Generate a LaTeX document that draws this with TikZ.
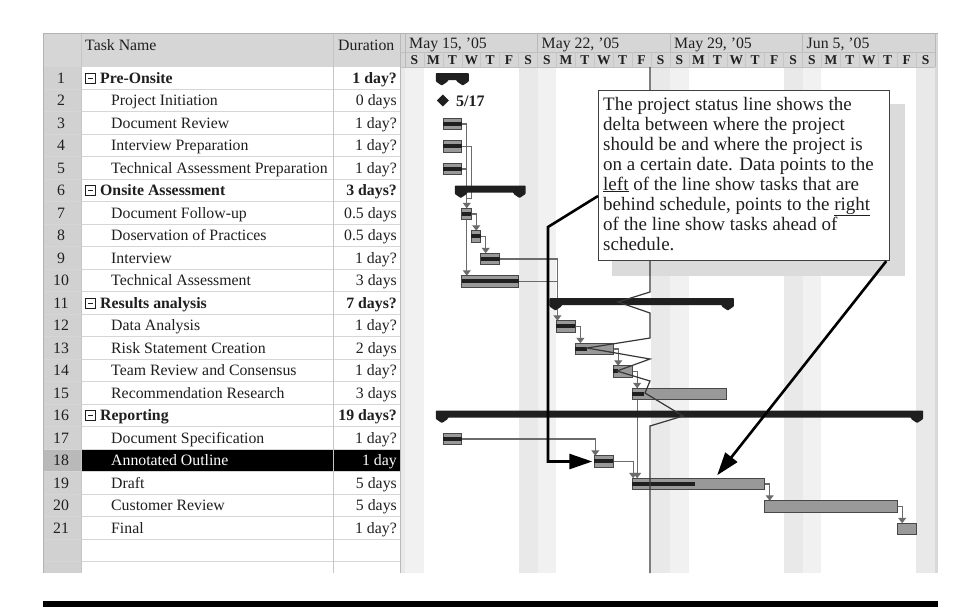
\documentclass[tikz,border=0pt]{standalone}
\usepackage{fontspec}
\setmainfont{Liberation Serif}
\usetikzlibrary{arrows.meta,shapes.geometric}
\pgfdeclarelayer{back}
\pgfdeclarelayer{deps}
\pgfsetlayers{back,deps,main}
\definecolor{wkA}{gray}{0.915}
\definecolor{wkB}{gray}{0.945}
\definecolor{hdr}{gray}{0.84}
\definecolor{numcol}{gray}{0.82}
\definecolor{barfill}{gray}{0.60}
\definecolor{ink}{gray}{0.12}

\newcommand\taskbar[4]{%
  \pgfmathsetmacro\tbXs{405+18.93*#3}%
  \pgfmathsetmacro\tbW{18.93*(#4-#3)}%
  \pgfmathsetmacro\tbY{56.5+22.5*#2}%
  \node[bar, minimum width=\tbW pt] (#1) at (\tbXs,\tbY) {};%
}
\newcommand\progbar[3]{%
  \pgfmathsetmacro\pbXs{405+18.93*#2}%
  \pgfmathsetmacro\pbXe{405+18.93*#3}%
  \pgfmathsetmacro\pbY{56.5+22.5*#1}%
  \fill[progfill] (\pbXs,\pbY-2.2) rectangle (\pbXe,\pbY+1.8);%
}
\newcommand\summbar[3]{%
  \pgfmathsetmacro\sbXs{405+18.93*#2}%
  \pgfmathsetmacro\sbXe{405+18.93*#3}%
  \pgfmathsetmacro\sbY{55.5+22.5*#1}%
  \fill[sumfill, rounded corners=0.8pt] (\sbXs-7,\sbY-5) -- (\sbXe+7,\sbY-5) -- (\sbXe+7,\sbY+3.5) -- (\sbXe+1,\sbY+7.5) -- (\sbXe-5,\sbY+3.5) -- (\sbXe-5,\sbY+2) -- (\sbXs+5,\sbY+2) -- (\sbXs+5,\sbY+3.5) -- (\sbXs-1,\sbY+7.5) -- (\sbXs-7,\sbY+3.5) -- cycle;%
}

\begin{document}
\begin{tikzpicture}[x=1pt,y=-1pt,
  tbl/.style={font=\fontsize{15.8}{18}\selectfont, inner sep=0pt, text=ink},
  tblb/.style={font=\fontsize{15.8}{18}\selectfont\bfseries, inner sep=0pt, text=ink},
  dayl/.style={font=\fontsize{13.5}{15}\selectfont\bfseries, anchor=base, inner sep=0pt, text=ink},
  ctext/.style={font=\fontsize{19}{20}\selectfont, anchor=base west, inner sep=0pt, text=ink},
  bar/.style={draw=black!72, fill=barfill, line width=0.7pt, minimum height=11.5pt, inner sep=0pt, outer sep=0pt, anchor=west},
  progfill/.style={fill=black!88},
  sumfill/.style={fill=black!88},
  dep/.style={draw=black!58, line width=1.1pt, -{Triangle[width=8pt,length=5.5pt]}},
  depline/.style={draw=black!58, line width=1.1pt},
  status/.style={draw=black!78, line width=1.2pt},
  bigarrow/.style={draw=black, line width=2.6pt, -{Triangle[length=23pt,width=15pt]}},
  rowline/.style={draw=gray!32, line width=0.6pt},
  colline/.style={draw=gray!45, line width=0.7pt}
]
\useasboundingbox (0,0) rectangle (977,611);

\begin{pgfonlayer}{back}
  \fill[white] (0,0) rectangle (977,611);
  % weekend stripes
  \begin{scope}
    \clip (400,67) rectangle (935,573);
    \foreach \dd/\cc in {-1/wkA,0/wkB,6/wkA,7/wkB,13/wkA,14/wkB,20/wkA,21/wkB,27/wkA}
      \fill[\cc] ({405+18.93*\dd},67) rectangle ({405+18.93*(\dd+1)},573);
  \end{scope}
  \fill[gray!30] (935,33) rectangle (938,573);
  % header band
  \fill[hdr] (43,33) rectangle (935,67);
  % row number column
  \fill[numcol] (43,66.75) rectangle (81,573);
  % selected row 18
  \fill[black] (81,449.25) rectangle (400,471.75);
  \fill[gray!55] (43,449.25) rectangle (81,471.75);
  % row lines
  \foreach \ii in {0,...,22}
    \draw[rowline] (43,{66.75+22.5*\ii}) -- (400,{66.75+22.5*\ii});
  % column lines
  \draw[colline] (81,33) -- (81,573);
  \draw[colline] (333,33) -- (333,573);
  \draw[draw=gray!55, line width=0.9pt] (400,33) -- (400,573);
  \draw[draw=gray!60, line width=1pt] (43,33) -- (43,573);
  \draw[draw=gray!60, line width=1pt] (43,33) -- (938,33);
  \draw[draw=gray!50, line width=0.7pt] (400,52) -- (935,52);
  \draw[draw=gray!50, line width=0.7pt] (400,67) -- (935,67);
  \foreach \kk in {0,...,4}
    \draw[draw=gray!55, line width=0.7pt] ({405+132.5*\kk},33) -- ({405+132.5*\kk},67);
  \foreach \dd in {1,...,27}
    \draw[draw=gray!45, line width=0.5pt] ({405+18.93*\dd},52) -- ({405+18.93*\dd},67);
\end{pgfonlayer}

% header texts
\node[tbl, anchor=base west] (hname) at (85,50) {Task Name};
\node[tbl, anchor=base west] (hdur) at (338,50) {Duration};
\foreach \kk/\wl in {0/May 15,1/May 22,2/May 29,3/Jun 5}
  \node[tbl, anchor=base west] (w\kk) at ({409+132.5*\kk},48) {\wl, '05};
\foreach \kk in {0,...,3}
  \foreach \ii/\ll in {0/S,1/M,2/T,3/W,4/T,5/F,6/S}
    \node[dayl] (d\kk\ii) at ({405+132.5*\kk+18.93*\ii+9.465},64) {\ll};

% row numbers
\foreach \rr in {1,...,21}
  \node[tbl, anchor=base] (r\rr) at (61,{60.5+22.5*\rr}) {\rr};

% task names and durations
\foreach \rr/\tn/\du in {2/Project Initiation/0 days,
  3/Document Review/1 day?,
  4/Interview Preparation/1 day?,
  5/Technical Assessment Preparation/1 day?,
  7/Document Follow-up/0.5 days,
  8/Doservation of Practices/0.5 days,
  9/Interview/1 day?,
  10/Technical Assessment/3 days,
  12/Data Analysis/1 day?,
  13/Risk Statement Creation/2 days,
  14/Team Review and Consensus/1 day?,
  15/Recommendation Research/3 days,
  17/Document Specification/1 day?,
  19/Draft/5 days,
  20/Customer Review/5 days,
  21/Final/1 day?}
{
  \node[tbl, anchor=base west] (n\rr) at (111,{60.5+22.5*\rr}) {\tn};
  \node[tbl, anchor=base east] (u\rr) at (397,{60.5+22.5*\rr}) {\du};
}
\foreach \rr/\tn/\du in {1/Pre-Onsite/1 day?,
  6/Onsite Assessment/3 days?,
  11/Results analysis/7 days?,
  16/Reporting/19 days?}
{
  \node[tblb, anchor=base west] (n\rr) at (100,{60.5+22.5*\rr}) {\tn};
  \node[tblb, anchor=base east] (u\rr) at (397,{60.5+22.5*\rr}) {\du};
  \draw[draw=ink, line width=0.8pt] (85.5,{50.5+22.5*\rr}) rectangle (95.5,{60.5+22.5*\rr});
  \draw[draw=ink, line width=0.9pt] (88,{55.5+22.5*\rr}) -- (93,{55.5+22.5*\rr});
}
\node[tbl, text=white, anchor=base west] (n18) at (111,465.5) {Annotated Outline};
\node[tbl, text=white, anchor=base east] (u18) at (397,465.5) {1 day};

% summary bars
\summbar{1}{2}{3}
\summbar{6}{3}{6}
\summbar{11}{8}{17}
\summbar{16}{2}{27}

% milestone
\node[diamond, fill=ink, minimum width=12pt, minimum height=12pt, inner sep=0pt] (m2) at (442.9,100.5) {};
\node[tblb, font=\fontsize{16}{18}\selectfont\bfseries, anchor=base west] (ml) at (456,106) {5/17};

% task bars
\taskbar{t3}{3}{2}{3}
\taskbar{t4}{4}{2}{3}
\taskbar{t5}{5}{2}{3}
\taskbar{t7}{7}{3}{3.5}
\taskbar{t8}{8}{3.5}{4}
\taskbar{t9}{9}{4}{5}
\taskbar{t10}{10}{3}{6}
\taskbar{t12}{12}{8}{9}
\taskbar{t13}{13}{9}{11}
\taskbar{t14}{14}{11}{12}
\taskbar{t15}{15}{12}{17}
\taskbar{t17}{17}{2}{3}
\taskbar{t18}{18}{10}{11}
\taskbar{t19}{19}{12}{19}
\taskbar{t20}{20}{19}{26}
\taskbar{t21}{21}{26}{27}

% progress
\progbar{3}{2}{3}
\progbar{4}{2}{3}
\progbar{5}{2}{3}
\progbar{7}{3}{3.5}
\progbar{8}{3.5}{4}
\progbar{9}{4}{5}
\progbar{10}{3}{6}
\progbar{12}{8}{9}
\progbar{13}{9}{9.6}
\progbar{14}{11}{11.25}
\progbar{15}{12}{12.65}
\progbar{17}{2}{3}
\progbar{18}{10}{11}
\progbar{19}{12}{15.3}

% dependency links (under bars)
\begin{pgfonlayer}{deps}
  \draw[dep] (t3.east) -| ([xshift=5pt]t10.north west);
  \draw[dep] (t4.east) -- ++(10,0) -- ++(0,52) -| ([xshift=5pt]t7.north west);
  \draw[depline] (t5.east) -- ++(5,0);
  \draw[dep] (t7.east) -| ([xshift=5pt]t8.north west);
  \draw[dep] (t8.east) -| ([xshift=5pt]t9.north west);
  \coordinate (j12) at ([xshift=1pt]t12.north west);
  \draw[dep] (t9.east) -| (j12);
  \draw[depline] (t10.east) -- (t10.east -| j12);
  \draw[dep] (t12.east) -| ([xshift=5pt]t13.north west);
  \draw[dep] (t13.east) -| ([xshift=5pt]t14.north west);
  \draw[dep] (t14.east) -| ([xshift=5pt]t15.north west);
  \draw[dep] (t14.east) -| ([xshift=5pt]t19.north west);
  \draw[dep] (t17.east) -| ([xshift=1pt]t18.north west);
  \draw[dep] (t18.east) -| ([xshift=1pt]t19.north west);
  \draw[dep] (t19.east) -| ([xshift=5pt]t20.north west);
  \draw[dep] (t20.east) -| ([xshift=5pt]t21.north west);
\end{pgfonlayer}

% callout shadow
\fill[gray!28] (612,104) rectangle (905,276);

% progress status line
\draw[status] (650,67) -- (650,292) -- (618,302) -- (650,313) -- (650,338) -- (587,348)
  -- (650,359) -- (617,371) -- (650,381) -- (645,393) -- (683,416) -- (650,426) -- (650,573);

% callout box
\node[draw=black!75, line width=1.2pt, fill=white, minimum width=291pt, minimum height=170pt,
      anchor=north west, inner sep=0pt] (callout) at (598,90) {};
\node[ctext] (c1) at (603,110) {The project status line shows the};
\node[ctext] (c2) at (603,130) {delta between where the project};
\node[ctext] (c3) at (603,150) {should be and where the project is};
\node[ctext] (c4) at (603,170) {on a certain date. Data points to the};
\node[ctext] (c5) at (603,190) {\underline{left} of the line show tasks that are};
\node[ctext] (c6) at (603,210) {behind schedule, points to the \underline{right}};
\node[ctext] (c7) at (603,230) {of the line show tasks ahead of};
\node[ctext] (c8) at (603,250) {schedule.};

% big arrows
\draw[bigarrow] ([yshift=-106pt]callout.north west) -- (548,227) |- ([xshift=-2pt]t18.west);
\draw[bigarrow] ([xshift=-4pt]callout.south east) -- ([xshift=85pt,yshift=3pt]t19.north west);

% bottom rule
\fill[black] (43,601) rectangle (938,607);
\end{tikzpicture}
\end{document}
